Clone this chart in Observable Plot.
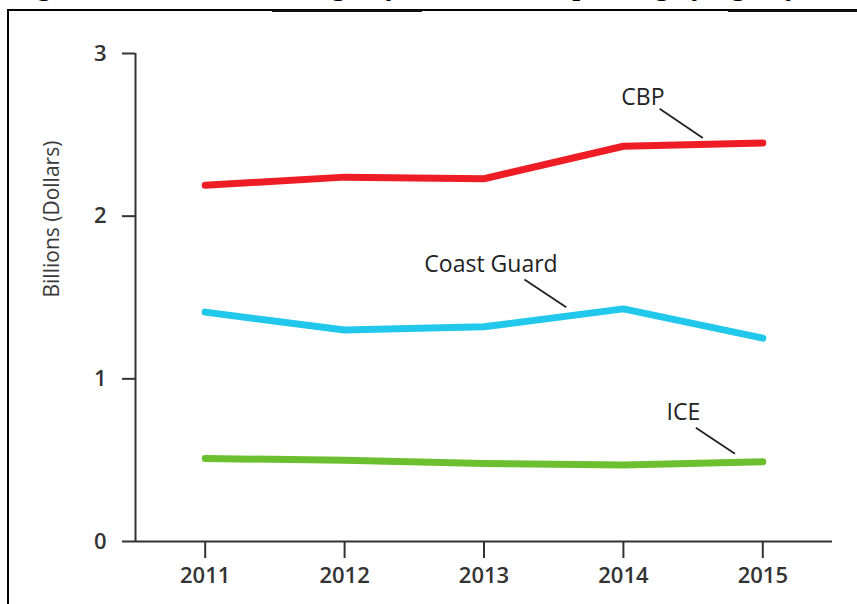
<!DOCTYPE html>
<html>
<head>
<meta charset="utf-8">
<script src="https://cdn.jsdelivr.net/npm/d3@7"></script>
<script src="https://cdn.jsdelivr.net/npm/@observablehq/plot@0.6"></script>
<style>
  html, body { margin: 0; padding: 0; background: #fff; }
  #page { position: relative; width: 857px; height: 604px; overflow: hidden; }
  #titleClip { position: absolute; left: 0; top: 0; width: 857px; height: 9px; overflow: hidden; }
  #title { position: absolute; left: 12px; top: -30px; white-space: nowrap;
           font: bold 28px "Liberation Serif", serif; color: #000; }
  #frame { position: absolute; left: 7px; top: 9px; width: 860px; height: 600px;
           border-left: 2px solid #000; border-top: 2px solid #000; box-sizing: border-box; }
  .ul { position: absolute; top: 10px; height: 2px; background: #111; }
  #chart { position: absolute; left: 0; top: 0; }
  #chart g[aria-label="x-axis tick label"], #chart g[aria-label="y-axis tick label"] { font-weight: 600; }
</style>
</head>
<body>
<div id="page">
  <div id="titleClip"><div id="title">Figure 1: Trends in DHS Agency Interdiction Spending by Agency</div></div>
  <div id="chart"></div>
  <div id="frame"></div>
  <div class="ul" style="left:272px;width:150px"></div>
  <div class="ul" style="left:728px;width:129px"></div>
</div>
<script>
// ---- data ----
const years = [2011, 2012, 2013, 2014, 2015];
const cbp = [2.19, 2.24, 2.23, 2.43, 2.45];
const coastGuard = [1.41, 1.30, 1.32, 1.43, 1.25];
const ice = [0.51, 0.50, 0.48, 0.47, 0.49];
const yTicks = [0, 1, 2, 3];

// annotation labels (data coordinates)
const labelNames = ["CBP", "Coast Guard", "ICE"];
const labelX = [2014.14, 2013.05, 2014.43];
const labelY = [2.73, 1.70, 0.79];
const leaderX1 = [2014.26, 2013.29, 2014.52];
const leaderY1 = [2.66, 1.61, 0.70];
const leaderX2 = [2014.57, 2013.59, 2014.80];
const leaderY2 = [2.48, 1.44, 0.54];

const seriesColors = {"CBP": "#ee1d25", "Coast Guard": "#22c8ec", "ICE": "#6cbf2e"};

const rows = [];
[["CBP", cbp], ["Coast Guard", coastGuard], ["ICE", ice]].forEach(([name, vals]) => {
  years.forEach((yr, i) => rows.push({agency: name, year: yr, value: vals[i]}));
});
const labels = labelNames.map((n, i) => ({name: n, x: labelX[i], y: labelY[i],
  x1: leaderX1[i], y1: leaderY1[i], x2: leaderX2[i], y2: leaderY2[i]}));

const axisColor = "#333";

const chart = Plot.plot({
  width: 857,
  height: 604,
  marginLeft: 135,
  marginRight: 25,
  marginTop: 53,
  marginBottom: 63,
  style: {fontFamily: "'Open Sans', sans-serif", color: axisColor, background: "transparent"},
  x: {domain: [2010.5, 2015.5]},
  y: {domain: [0, 3]},
  marks: [
    Plot.axisY({ticks: yTicks, tickFormat: d => String(d), tickSize: 13, tickPadding: 16, fontSize: 22, label: null, stroke: axisColor, strokeWidth: 2}),
    Plot.axisX({ticks: years, tickFormat: d => String(d), tickSize: 17, tickPadding: 9, fontSize: 22, label: null, stroke: axisColor, strokeWidth: 2}),
    Plot.ruleX([2010.5], {stroke: axisColor, strokeWidth: 2}),
    Plot.ruleY([0], {stroke: axisColor, strokeWidth: 2}),
    Plot.text(["Billions (Dollars)"], {frameAnchor: "left", dx: -83, rotate: -90, fontSize: 21, fill: "#3a3a3a"}),
    Plot.line(rows, {x: "year", y: "value", z: "agency", stroke: d => seriesColors[d.agency],
      strokeWidth: 7, strokeLinecap: "round", strokeLinejoin: "round"}),
    Plot.link(labels, {x1: "x1", y1: "y1", x2: "x2", y2: "y2", stroke: "#222", strokeWidth: 1.8}),
    Plot.text(labels, {x: "x", y: "y", text: "name", fontSize: 23, fill: "#222"})
  ]
});
document.getElementById("chart").appendChild(chart);
</script>
</body>
</html>
